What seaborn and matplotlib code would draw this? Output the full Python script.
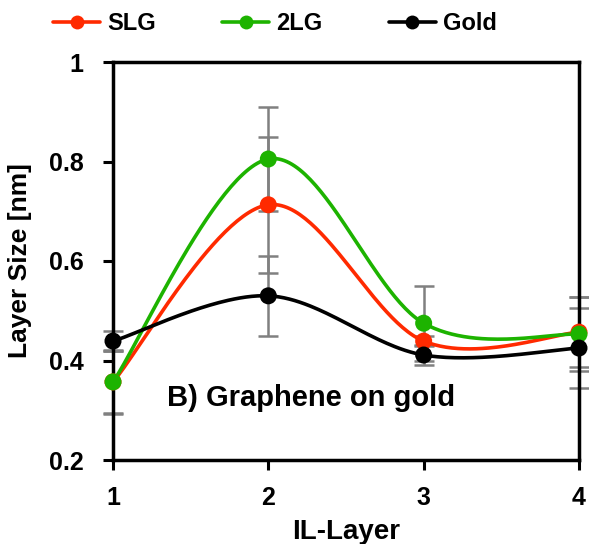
import numpy as np
import matplotlib
matplotlib.use("Agg")
import matplotlib.pyplot as plt
import seaborn as sns
import pandas as pd
from matplotlib.lines import Line2D

sns.set_theme(style="white")
plt.rcParams['font.family'] = ['Liberation Sans', 'DejaVu Sans']
plt.rcParams['font.weight'] = 'bold'
plt.rcParams['text.color'] = 'black'
plt.rcParams['axes.labelcolor'] = 'black'
plt.rcParams['xtick.color'] = 'black'
plt.rcParams['ytick.color'] = 'black'

layers = [1, 2, 3, 4]
slg = [0.357, 0.713, 0.439, 0.457]
slg_err = [0.065, 0.137, 0.01, 0.07]
twolg = [0.357, 0.805, 0.475, 0.453]
twolg_err = [0.062, 0.105, 0.075, 0.075]
gold = [0.439, 0.530, 0.411, 0.425]
gold_err = [0.020, 0.080, 0.020, 0.080]
series_names = ["SLG", "2LG", "Gold"]
colors = {"SLG": "#FF2A00", "2LG": "#1DB300", "Gold": "#000000"}

df = pd.DataFrame({
    "layer": layers * 3,
    "size": slg + twolg + gold,
    "err": slg_err + twolg_err + gold_err,
    "series": sum([[n] * 4 for n in series_names], []),
})


def smooth(xs, ys, n=60):
    # Excel-like smoothed line (Catmull-Rom Bezier)
    P = np.column_stack([xs, ys]).astype(float)
    out = []
    for i in range(len(P) - 1):
        p0 = P[i - 1] if i > 0 else P[i]
        p1 = P[i]
        p2 = P[i + 1]
        p3 = P[i + 2] if i + 2 < len(P) else P[i + 1]
        c1 = p1 + (p2 - p0) / 6.0
        c2 = p2 - (p3 - p1) / 6.0
        t = np.linspace(0, 1, n)[:, None]
        seg = (1 - t) ** 3 * p1 + 3 * (1 - t) ** 2 * t * c1 + 3 * (1 - t) * t ** 2 * c2 + t ** 3 * p2
        out.append(seg if i == 0 else seg[1:])
    out = np.vstack(out)
    return out[:, 0], out[:, 1]


fig = plt.figure(figsize=(5.89, 5.44), dpi=100)
ax = fig.add_axes([113 / 589, 1 - 460 / 544, (579 - 113) / 589, (460 - 62) / 544])

for name in series_names:
    sub = df[df.series == name]
    ax.errorbar(sub.layer, sub["size"], yerr=sub.err, fmt="none", ecolor="#808080",
                elinewidth=1.8, capsize=7, capthick=1.8, zorder=2, clip_on=False)

for name in series_names:
    sub = df[df.series == name]
    sx, sy = smooth(sub.layer.values, sub["size"].values)
    ax.plot(sx, sy, color=colors[name], lw=2.6, zorder=3, clip_on=False)

sns.scatterplot(data=df, x="layer", y="size", hue="series", palette=colors,
                s=150, edgecolor="none", ax=ax, legend=False, zorder=4, clip_on=False)

ax.set_xlim(1, 4)
ax.set_ylim(0.2, 1.0)
ax.set_xticks(layers)
ax.set_xticklabels([str(v) for v in layers])
ax.set_yticks([0.2, 0.4, 0.6, 0.8, 1.0])
ax.set_yticklabels(["0.2", "0.4", "0.6", "0.8", "1"])
ax.tick_params(axis="y", direction="out", length=7, width=2.2, labelsize=18,
               left=True, pad=14, color="black", labelcolor="black")
ax.tick_params(axis="x", direction="out", length=7, width=2.2, labelsize=18,
               bottom=True, pad=12, color="black", labelcolor="black")
for lab in ax.get_xticklabels() + ax.get_yticklabels():
    lab.set_fontweight("bold")
for sp in ax.spines.values():
    sp.set_linewidth(2.5)
    sp.set_color("black")
    sp.set_visible(True)

ax.set_xlabel("IL-Layer", fontsize=20, fontweight="bold", labelpad=6, color="black")
ax.set_ylabel("Layer Size [nm]", fontsize=19, fontweight="bold", labelpad=12, color="black")
ax.text(0.425, 0.156, "B) Graphene on gold", transform=ax.transAxes, ha="center",
        va="center", fontsize=21, fontweight="bold", color="black")

handles = [Line2D([0], [0], color=colors[n], lw=2.6, marker="o", markersize=10,
                  markeredgewidth=0) for n in series_names]
fig.legend(handles, series_names, loc="center", bbox_to_anchor=(275 / 589, 1 - 24 / 544),
           ncol=3, frameon=False, prop={"weight": "bold", "size": 17},
           handlelength=2.0, handletextpad=0.3, columnspacing=2.8, labelcolor="black")

fig.savefig("out.png", dpi=100)
